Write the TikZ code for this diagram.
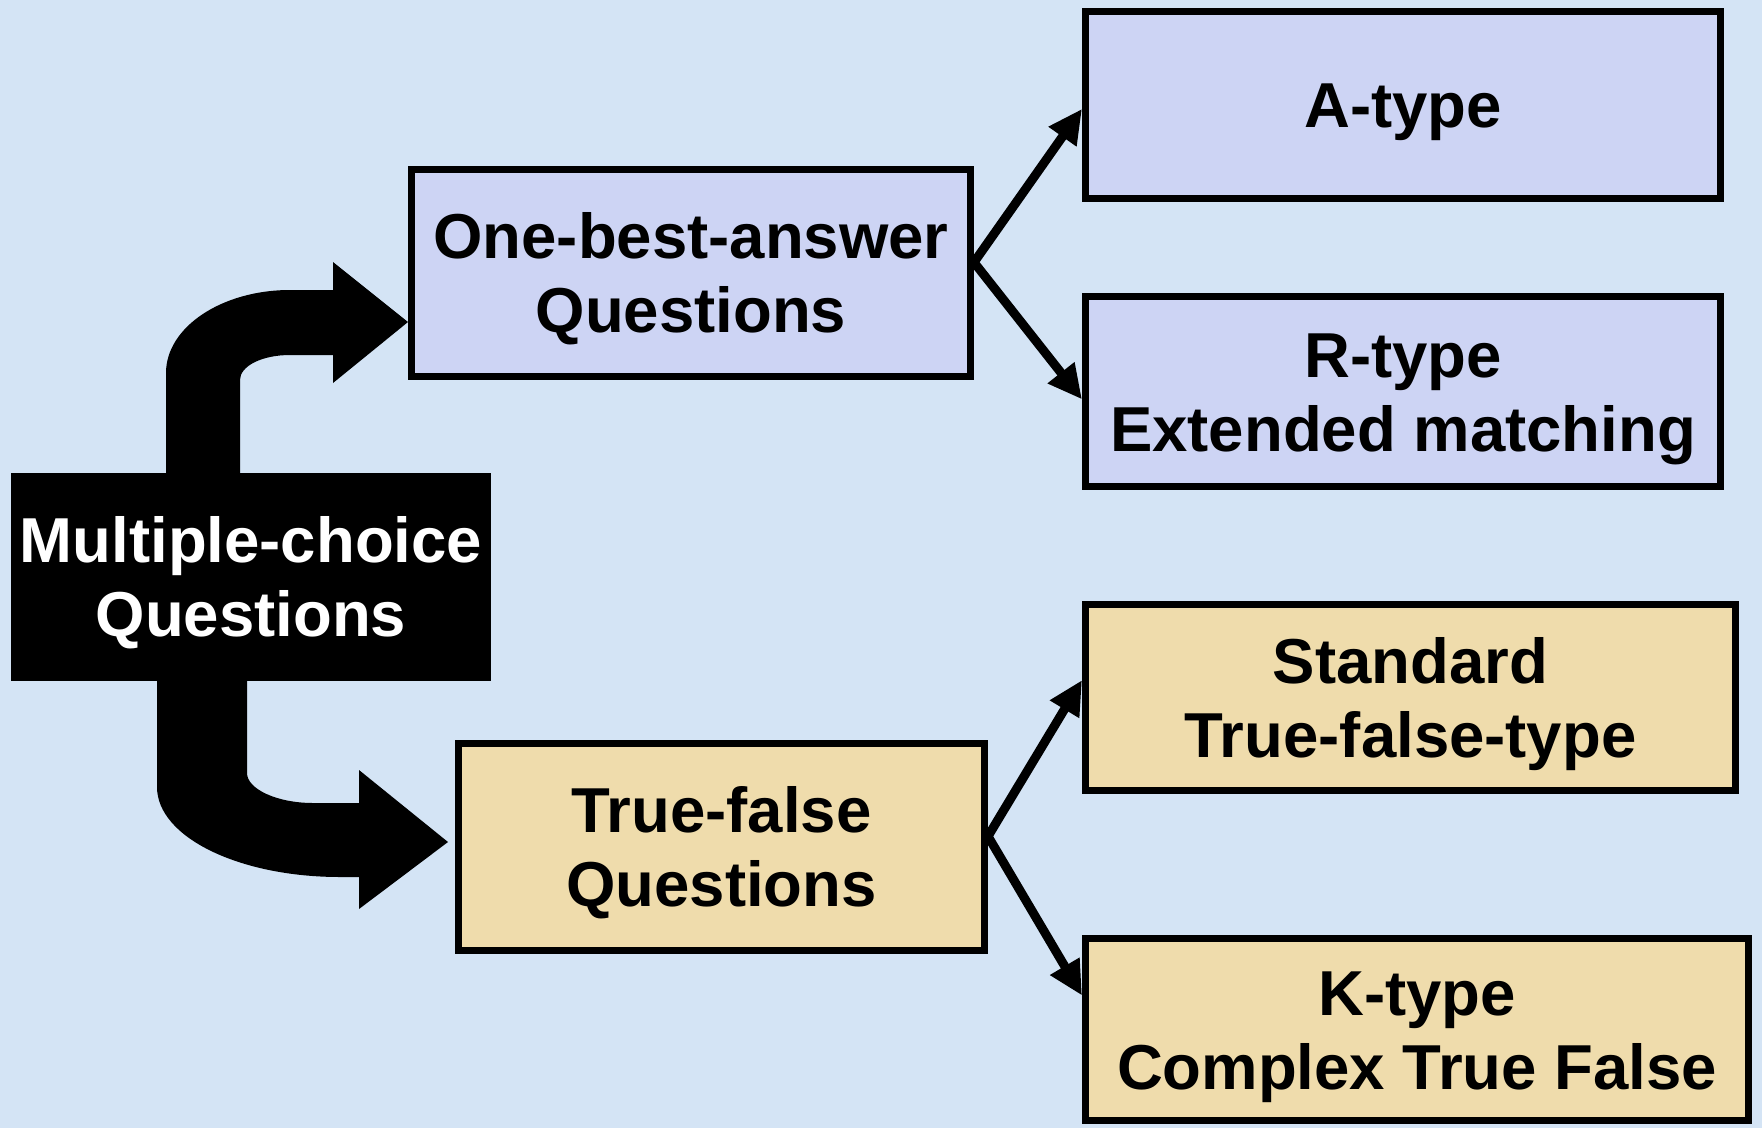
\documentclass[tikz,border=0pt]{standalone}
\usepackage{fontspec}
\setmainfont{Liberation Sans}
\usetikzlibrary{arrows.meta,calc}
\definecolor{bgblue}{RGB}{212,228,245}
\definecolor{boxblue}{RGB}{205,212,244}
\definecolor{boxtan}{RGB}{239,220,172}
\newcommand{\boxlines}[1]{\begin{tabular}{@{}c@{}}\rule{0pt}{68pt}#1\end{tabular}}
\tikzset{
    rootnode/.style={fill=black,text=white,font=\bfseries\fontsize{63.5}{74}\selectfont,inner sep=0pt},
    typenode/.style={draw=black,line width=7pt,font=\bfseries\fontsize{63.5}{74}\selectfont,inner sep=0pt},
    bluenode/.style={typenode,fill=boxblue},
    tannode/.style={typenode,fill=boxtan},
    linkarrow/.style={-{Triangle[length=34pt,width=32pt]},line width=9pt},
    bigarrow/.style={fill=black}
}

\begin{document}
\begin{tikzpicture}[x=1pt,y=-1pt]

    % background
    \fill[bgblue] (0,0) rectangle (1762,1128);
    \useasboundingbox (0,0) rectangle (1762,1128);

    % block arrows out of the root box (drawn first, the box covers their stems)
    \fill[bigarrow] (166,520) -- (166,373) .. controls (166,327) and (222,290) .. (290,290)
        -- (333,290) -- (333,262) -- (408,322) -- (333,383) -- (333,355) -- (290,355)
        .. controls (262,355) and (240,366) .. (240,380) -- (240,520) -- cycle;
    \fill[bigarrow] (157,640) -- (157,787) .. controls (157,837) and (239,877) .. (340,877)
        -- (359,877) -- (359,909) -- (448,842) -- (359,770) -- (359,803) -- (313,803)
        .. controls (277,803) and (247,789) .. (247,773) -- (247,640) -- cycle;

    % root
    \node[rootnode,minimum width=480pt,minimum height=208pt] (mcq) at (251,577) {\boxlines{Multiple-choice\\Questions}};

    % second level
    \node[bluenode,minimum width=559pt,minimum height=207pt] (oba) at (691,273) {\boxlines{One-best-answer\\Questions}};
    \node[tannode,minimum width=526pt,minimum height=207pt] (tf) at (721.5,847) {\boxlines{True-false\\Questions}};

    % item types
    \node[bluenode,minimum width=635pt,minimum height=187pt] (atype) at (1403,105) {\boxlines{A-type}};
    \node[bluenode,minimum width=635pt,minimum height=190pt] (rtype) at (1403,391.5) {\boxlines{R-type\\Extended matching}};
    \node[tannode,minimum width=650pt,minimum height=186pt] (std) at (1410.5,697.5) {\boxlines{Standard\\True-false-type}};
    \node[tannode,minimum width=663pt,minimum height=182pt] (ktype) at (1417,1029.5) {\boxlines{K-type\\Complex True False}};

    % links
    \draw[linkarrow] ($(oba.north east)!0.45!(oba.south east)$) -- ($(atype.north west)!0.52!(atype.south west)$);
    \draw[linkarrow] ($(oba.north east)!0.45!(oba.south east)$) -- ($(rtype.north west)!0.54!(rtype.south west)$);
    \draw[linkarrow] ($(tf.north east)!0.45!(tf.south east)$) -- ($(std.north west)!0.41!(std.south west)$);
    \draw[linkarrow] ($(tf.north east)!0.45!(tf.south east)$) -- ($(ktype.north west)!0.32!(ktype.south west)$);

\end{tikzpicture}
\end{document}
